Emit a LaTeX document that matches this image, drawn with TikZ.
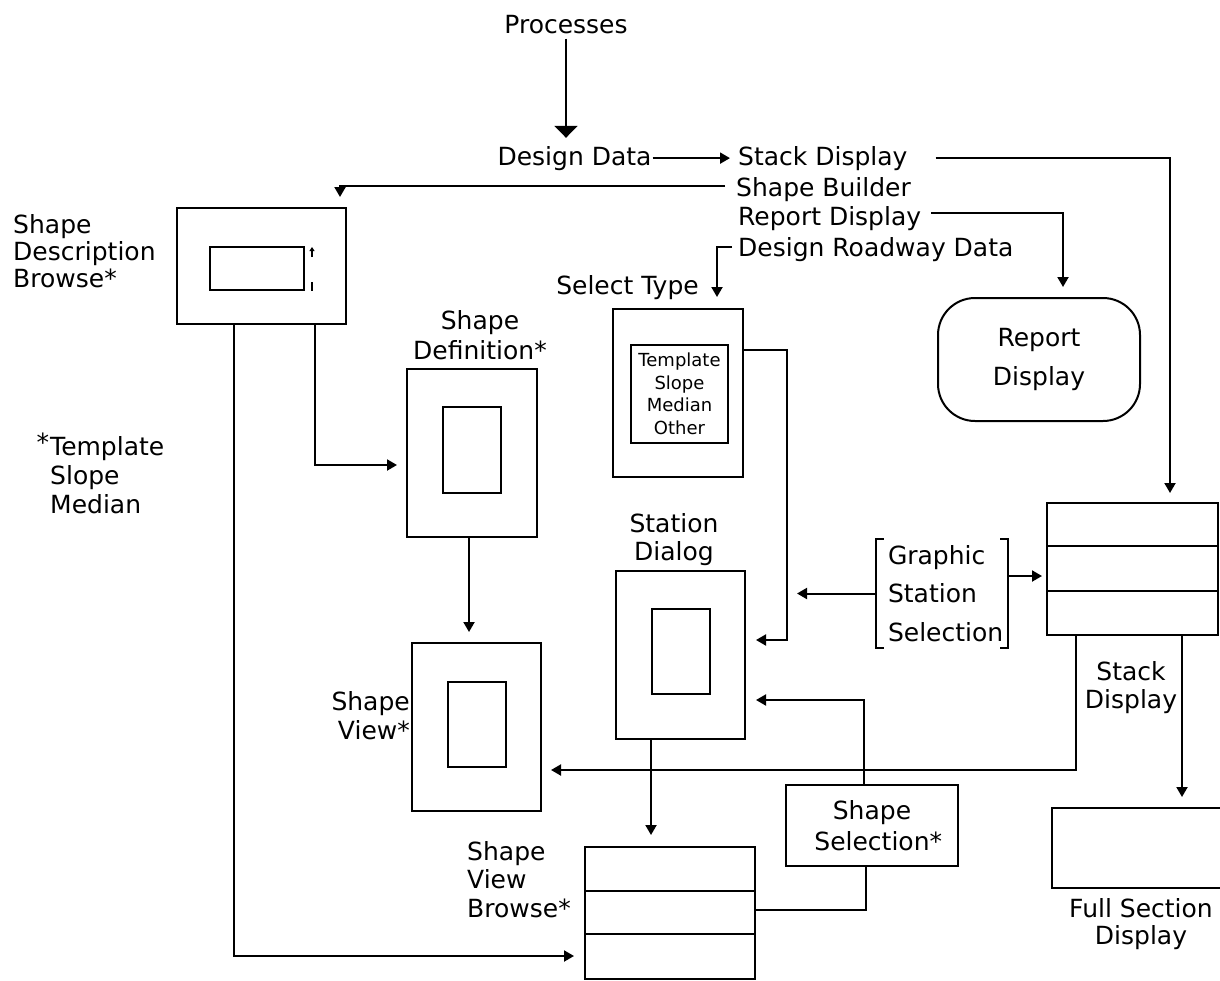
\documentclass[tikz,border=0pt]{standalone}
\usepackage{fontspec}
\setmainfont{DejaVu Sans}
\usetikzlibrary{arrows.meta,calc}
\begin{document}
\begin{tikzpicture}[x=1pt,y=-1pt,
  every node/.style={inner sep=0pt, font=\fontsize{25}{30}\selectfont},
  lw/.style={line width=2pt},
  box/.style={draw, lw, rectangle, inner sep=0pt},
  arr/.style={lw, -{Triangle[width=11pt,length=10pt]}},
  bigarr/.style={lw, -{Triangle[width=23pt,length=12pt]}},
  ]
\useasboundingbox (0,0) rectangle (1220,980);
\clip (0,0) rectangle (1220,980);

% ---------- top text labels ----------
\node[anchor=base] (proc) at (566,33) {Processes};
\node[anchor=base] (dd) at (574.5,165) {Design Data};
\node[anchor=base west] (sd) at (738,165) {Stack Display};
\node[anchor=base west] (sb) at (736,196) {Shape Builder};
\node[anchor=base west] (rd) at (738,225) {Report Display};
\node[anchor=base west] (drd) at (738,256) {Design Roadway Data};
\node[anchor=base] (selt) at (627.5,294) {Select Type};

% ---------- boxes ----------
\node[box, minimum width=169pt, minimum height=116pt] (sdb) at (261.5,266) {};
\node[box, minimum width=94pt, minimum height=43pt] (sdbi) at (257,268.5) {};
\draw[line width=1.5pt, -{Triangle[width=5pt,length=4pt]}] ($(sdbi.north east)+(7,11)$) -- ($(sdbi.north east)+(7,1)$);
\draw[line width=1.5pt] ($(sdbi.north east)+(7,36)$) -- ($(sdbi.north east)+(7,45)$);

\node[box, minimum width=130pt, minimum height=168pt] (sdef) at (472,453) {};
\node[box, minimum width=58pt, minimum height=86pt] (sdefi) at (472,450) {};

\node[box, minimum width=129pt, minimum height=168pt] (sview) at (476.5,727) {};
\node[box, minimum width=58pt, minimum height=85pt] (sviewi) at (477,724.5) {};

\node[box, minimum width=130pt, minimum height=168pt] (sel) at (678,393) {};
\node[box, minimum width=97pt, minimum height=98pt, align=center, font=\fontsize{18}{22.5}\selectfont] (seli) at (679.5,394) {Template\\Slope\\Median\\Other};

\node[box, minimum width=129pt, minimum height=168pt] (stn) at (680.5,655) {};
\node[box, minimum width=58pt, minimum height=85pt] (stni) at (681,651.5) {};

\node[box, minimum width=171pt, minimum height=132pt] (stack) at (1132.5,569) {};
\draw[lw] ($(stack.north west)+(0,44)$) -- ($(stack.north east)+(0,44)$);
\draw[lw] ($(stack.north west)+(0,89)$) -- ($(stack.north east)+(0,89)$);

\node[box, minimum width=188pt, minimum height=80pt] (full) at (1146,848) {};

\node[box, minimum width=172pt, minimum height=81pt, align=center, font=\fontsize{25}{31}\selectfont] (ssel) at (872,825.5) {Shape\\Selection\rlap{*}};

\node[box, minimum width=170pt, minimum height=132pt] (svb) at (670,913) {};
\draw[lw] ($(svb.north west)+(0,45)$) -- ($(svb.north east)+(0,45)$);
\draw[lw] ($(svb.north west)+(0,88)$) -- ($(svb.north east)+(0,88)$);

\node[box, rounded corners=37pt, minimum width=202pt, minimum height=123pt, align=center, font=\fontsize{25}{39}\selectfont] (report) at (1039,359.5) {Report\\Display};

% bracket node
\node[minimum width=132pt, minimum height=109pt, text width=108pt, align=left, font=\fontsize{25}{38.5}\selectfont] (gss) at (942,593.5) {Graphic\\Station\\Selection};
\draw[lw] ($(gss.north west)+(8,0)$) -- (gss.north west) -- (gss.south west) -- ++(8,0);
\draw[lw] ($(gss.north east)+(-8,0)$) -- (gss.north east) -- (gss.south east) -- ++(-8,0);

% ---------- box labels ----------
\node[anchor=north west, align=left, font=\fontsize{25}{27}\selectfont] (sdbl) at (13,214) {Shape\\Description\\Browse*};
\node[anchor=north west, align=left, font=\fontsize{25}{29}\selectfont] (note) at (50,436) {\llap{\smash{\raisebox{4pt}{*}}\hspace{1pt}}Template\\Slope\\Median};
\node[anchor=north, align=center, font=\fontsize{25}{30}\selectfont] (sdefl) at (480,310) {Shape\\Definition*};
\node[anchor=north, align=center, font=\fontsize{25}{28}\selectfont] (stnl) at (674,513) {Station\\Dialog};
\node[anchor=north east, align=right, font=\fontsize{25}{29}\selectfont] (sviewl) at (410,691) {Shape\\View*};
\node[anchor=north, align=center, font=\fontsize{25}{28}\selectfont] (stackl) at (1131,661) {Stack\\Display};
\node[anchor=north, align=center, font=\fontsize{25}{27}\selectfont] (fulll) at (1141,898) {Full Section\\Display};
\node[anchor=north west, align=left, font=\fontsize{25}{28.5}\selectfont] (svbl) at (467,841) {Shape\\View\\Browse*};

% ---------- connectors ----------
\draw[bigarr, shorten <=5pt, shorten >=8pt] (proc.south) -- (proc.south |- dd.north);
\draw[arr, shorten <=1pt, shorten >=8pt] (dd.east) -- (sd.west |- dd.east);
\coordinate (stin) at ($(stack.north)+(37.5,0)$);
\draw[arr, shorten <=28pt, shorten >=9pt] (sd.east) -| (stin);
\coordinate (sdbin) at ($(sdb.north)+(78.5,0)$);
\draw[arr, shorten <=11pt, shorten >=10pt] ([yshift=3pt]sb.west) -| (sdbin);
\coordinate (repin) at ($(report.north)+(24,0)$);
\draw[arr, shorten <=10pt, shorten >=10pt] ([yshift=5pt]rd.east) -| (repin);
\coordinate (selin) at ($(sel.north)+(39,0)$);
\draw[arr, shorten <=6pt, shorten >=11pt] ([yshift=2pt]drd.west) -| (selin);

\coordinate (sdbo1) at ($(sdb.south)+(-27.5,0)$);
\draw[arr, shorten >=10pt] (sdbo1) |- ($(svb.west)+(0,43)$);
\coordinate (sdbo2) at ($(sdb.south)+(53.5,0)$);
\draw[arr, shorten >=9pt] (sdbo2) |- ($(sdef.west)+(0,12)$);
\coordinate (sdefo) at ($(sdef.south)+(-3,0)$);
\draw[arr, shorten >=10pt] (sdefo) -- (sdefo |- sview.north);

\coordinate (selo) at ($(sel.east)+(0,-43)$);
\coordinate (c2) at ($(sel.east)+(43,-43)$);
\draw[arr, shorten >=10pt] (selo) -- (c2) |- ($(stn.east)+(0,-15)$);
\draw[arr, shorten >=10pt] (gss.west) -- (gss.west -| c2);
\coordinate (gsso) at ($(gss.east)+(0,-17.5)$);
\draw[arr, shorten >=4pt] (gsso) -- (gsso -| stack.west);

\coordinate (sto1) at ($(stack.south)+(-56.5,0)$);
\draw[arr, shorten >=9pt] (sto1) |- ($(sview.east)+(0,43)$);
\coordinate (sto2) at ($(stack.south)+(49.5,0)$);
\draw[arr, shorten >=10pt] (sto2) -- (sto2 |- full.north);

\coordinate (sselo1) at ($(ssel.north)+(-8,0)$);
\draw[arr, shorten >=10pt] (sselo1) |- ($(stn.east)+(0,45)$);
\coordinate (sselo2) at ($(ssel.south)+(-6,0)$);
\draw[lw] (sselo2) |- ($(svb.east)+(0,-3)$);
\coordinate (stno) at ($(stn.south)+(-29.5,0)$);
\draw[arr, shorten >=11pt] (stno) -- (stno |- svb.north);
\end{tikzpicture}
\end{document}
